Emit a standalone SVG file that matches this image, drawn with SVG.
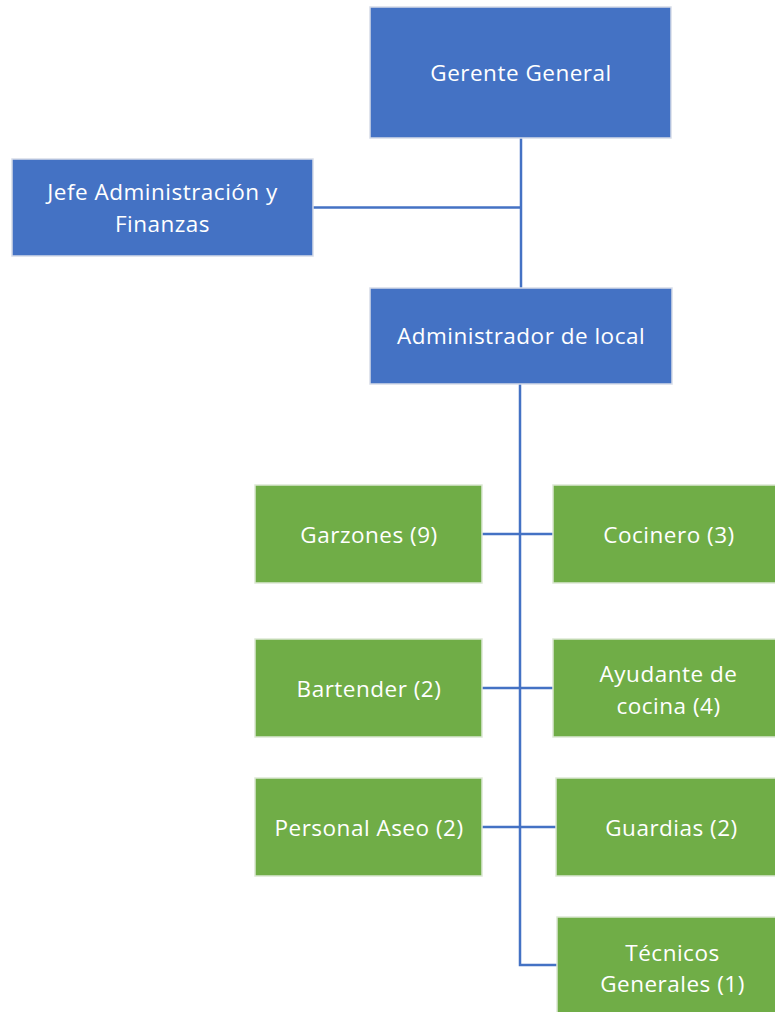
<svg xmlns="http://www.w3.org/2000/svg" width="775" height="1012" viewBox="0 0 775 1012">
<style>
.blue{fill:#4472C4;stroke:#D6DCE8;stroke-width:1.5}
.green{fill:#70AD47;stroke:#DCE8D4;stroke-width:1.5}
.t{font-family:"Open Sans","Liberation Sans",sans-serif;font-size:22.5px;letter-spacing:0.5px;fill:#FFFFFF;text-anchor:middle}
.c{fill:none;stroke:#4472C4;stroke-width:2.5}
</style>
<rect width="775" height="1012" fill="#FFFFFF"/>
<g id="connectors">
<path class="c" d="M521 138 V288"/>
<path class="c" d="M313 207.5 H521"/>
<path class="c" d="M520 384 V965 H557"/>
<path class="c" d="M482 534 H553"/>
<path class="c" d="M482 688 H553"/>
<path class="c" d="M482 827 H556"/>
</g>
<g id="gerente">
<rect class="blue" x="370" y="7" width="301" height="131"/>
<text class="t" x="521" y="81">Gerente General</text>
</g>
<g id="jefe">
<rect class="blue" x="12" y="159" width="301" height="97"/>
<text class="t" x="162.5" y="200">Jefe Administración y</text>
<text class="t" x="162.5" y="232">Finanzas</text>
</g>
<g id="administrador">
<rect class="blue" x="370" y="288" width="302" height="96"/>
<text class="t" x="521" y="344">Administrador de local</text>
</g>
<g id="garzones">
<rect class="green" x="255" y="485" width="227" height="98"/>
<text class="t" x="369" y="542.5">Garzones (9)</text>
</g>
<g id="cocinero">
<rect class="green" x="553" y="485" width="230" height="98"/>
<text class="t" x="669" y="542.5">Cocinero (3)</text>
</g>
<g id="bartender">
<rect class="green" x="255" y="639" width="227" height="98"/>
<text class="t" x="369" y="697">Bartender (2)</text>
</g>
<g id="ayudante">
<rect class="green" x="553" y="639" width="230" height="98"/>
<text class="t" x="668.5" y="682">Ayudante de</text>
<text class="t" x="668.5" y="713.5">cocina (4)</text>
</g>
<g id="personal-aseo">
<rect class="green" x="255" y="778" width="227" height="98"/>
<text class="t" x="369" y="836">Personal Aseo (2)</text>
</g>
<g id="guardias">
<rect class="green" x="556" y="778" width="230" height="98"/>
<text class="t" x="671.5" y="836">Guardias (2)</text>
</g>
<g id="tecnicos">
<rect class="green" x="557" y="917" width="230" height="98"/>
<text class="t" x="672.5" y="961">Técnicos</text>
<text class="t" x="672.5" y="992">Generales (1)</text>
</g>
</svg>
